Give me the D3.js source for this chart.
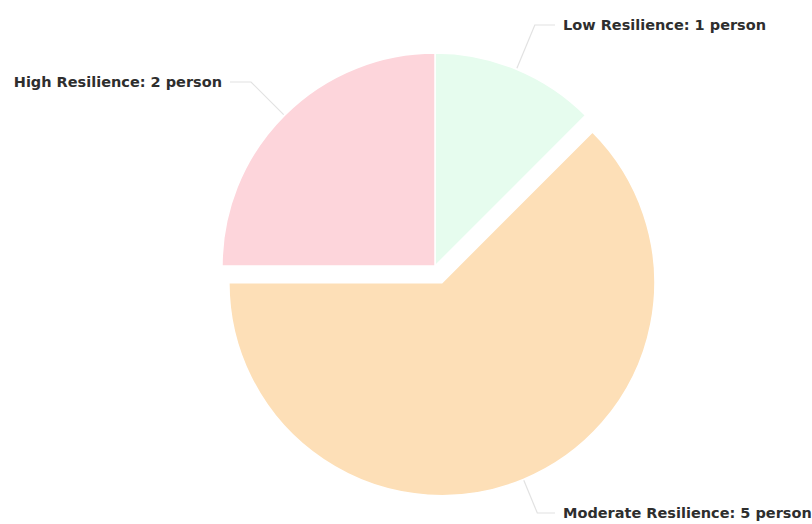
<!DOCTYPE html>
<html>
<head>
<meta charset="utf-8">
<script src="https://cdn.jsdelivr.net/npm/d3@7"></script>
<style>
  html, body { margin: 0; padding: 0; background: #ffffff; }
  svg { display: block; }
</style>
</head>
<body>
<svg id="chart" width="812" height="524"></svg>
<script>
// Resilience levels and head counts
const categories = ["Low Resilience", "Moderate Resilience", "High Resilience"];
const counts = [1, 5, 2];
const colors = ["#e6fcee", "#fddfb7", "#fdd5db"];
// Slices pulled out from the centre
const exploded = [false, true, false];

const width = 812, height = 524;
const cx = 435, cy = 266;
const radius = 213;
const explodeOffset = 18;

// Label rows: vertical position of each label and its horizontal anchor
const labelRowY = { left: 82 - cy, topRight: 25 - cy, bottomRight: 513 - cy };
const labelX = { left: 222 - cx, right: 563 - cx };

const svg = d3.select("#chart");
const g = svg.append("g").attr("transform", `translate(${cx},${cy})`);

const pie = d3.pie().sort(null).value(d => d.value);
const data = categories.map((c, i) => ({ name: c, value: counts[i], color: colors[i], out: exploded[i] }));
const arcs = pie(data);

const arc = d3.arc().innerRadius(0).outerRadius(radius);

function offsetOf(a) {
  if (!a.data.out) return [0, 0];
  const mid = (a.startAngle + a.endAngle) / 2;
  return [Math.sin(mid) * explodeOffset, -Math.cos(mid) * explodeOffset];
}

g.selectAll("path.slice")
  .data(arcs)
  .join("path")
  .attr("class", "slice")
  .attr("d", arc)
  .attr("transform", d => { const o = offsetOf(d); return `translate(${o[0]},${o[1]})`; })
  .attr("fill", d => d.data.color)
  .attr("stroke", "#ffffff")
  .attr("stroke-width", 1.5);

// Leader lines and labels
g.selectAll("g.label")
  .data(arcs)
  .join("g")
  .attr("class", "label")
  .each(function(d) {
    const o = offsetOf(d);
    const mid = (d.startAngle + d.endAngle) / 2;
    const sx = Math.sin(mid), sy = -Math.cos(mid);
    const right = sx >= 0;
    const rowY = !right ? labelRowY.left : (sy < 0 ? labelRowY.topRight : labelRowY.bottomRight);
    const p0 = [o[0] + sx * (radius + 1), o[1] + sy * (radius + 1)];
    const t = (rowY - p0[1]) / sy;
    const p1 = [p0[0] + sx * t, rowY];
    const tx = right ? labelX.right : labelX.left;
    const p2 = [tx + (right ? -8 : 8), rowY];
    const sel = d3.select(this);
    sel.append("polyline")
      .attr("points", [p0, p1, p2].map(p => p.join(",")).join(" "))
      .attr("fill", "none")
      .attr("stroke", "#e2e2e2")
      .attr("stroke-width", 1.2);
    sel.append("text")
      .attr("x", tx)
      .attr("y", rowY)
      .attr("dy", "0.36em")
      .attr("text-anchor", right ? "start" : "end")
      .attr("font-family", "'DejaVu Sans', Verdana, sans-serif")
      .attr("font-weight", "bold")
      .attr("font-size", 14.5)
      .attr("fill", "#2e2e2e")
      .text(`${d.data.name}: ${d.data.value} person`);
  });
</script>
</body>
</html>
